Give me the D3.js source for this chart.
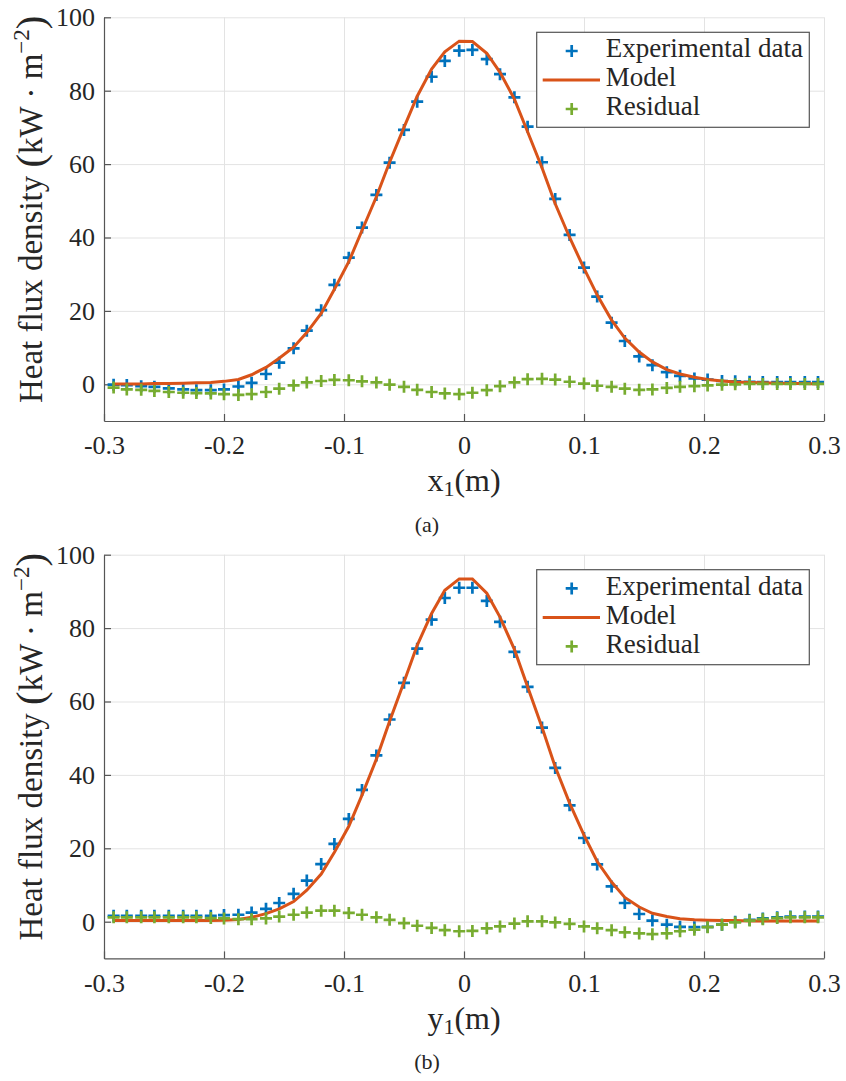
<!DOCTYPE html>
<meta charset="utf-8">
<script src="https://d3js.org/d3.v7.min.js"></script>
<style>
  body { margin: 0; background: #fff; }
  text { font-family: "Liberation Serif", "Times New Roman", serif; fill: #262626; }
</style>
<div id="chart"></div>
<script>

// sample positions along the line (m), same for both scans
var xPos = [-0.292,-0.281,-0.269,-0.258,-0.246,-0.234,-0.223,-0.211,-0.200,-0.188,
            -0.177,-0.165,-0.154,-0.142,-0.131,-0.119,-0.108,-0.096,-0.085,-0.073,
            -0.062,-0.050,-0.039,-0.027,-0.016,-0.004,0.007,0.019,0.030,0.042,
            0.053,0.065,0.076,0.088,0.100,0.111,0.123,0.134,0.146,0.157,
            0.169,0.180,0.192,0.203,0.215,0.226,0.238,0.249,0.261,0.272,
            0.284,0.295];

// (a) scan along x1
var expA = [-0.1,-0.2,-0.5,-0.7,-1.1,-1.4,-1.6,-1.6,-1.4,-0.6,
            0.4,2.8,5.9,9.8,14.6,20.2,27.1,34.5,42.7,51.6,
            60.4,69.3,77.0,83.8,88.1,90.9,91.1,88.6,84.5,78.2,
            70.2,60.5,50.5,40.7,31.8,23.9,16.8,11.8,7.6,5.2,
            3.3,2.3,1.6,1.3,0.9,0.8,0.7,0.6,0.6,0.6,
            0.6,0.6];
var modelA = [0.1,0.1,0.1,0.2,0.2,0.3,0.4,0.5,0.8,1.3,
              2.6,4.6,7.1,10.1,14.1,19.3,25.9,33.4,41.9,51.1,
              60.5,70.0,78.5,85.9,90.6,93.5,93.4,90.2,85.0,77.7,
              68.8,59.0,49.2,40.0,31.6,24.3,17.5,12.6,8.8,6.1,
              4.0,2.8,1.9,1.3,0.9,0.6,0.5,0.4,0.3,0.2,
              0.2,0.1];
var residA = [-0.9,-1.4,-1.5,-1.8,-2.1,-2.3,-2.4,-2.5,-2.7,-2.9,
              -2.7,-2.1,-1.2,-0.3,0.5,0.9,1.2,1.1,0.8,0.5,
              -0.1,-0.7,-1.5,-2.1,-2.5,-2.7,-2.3,-1.6,-0.5,0.5,
              1.4,1.5,1.3,0.7,0.2,-0.4,-0.7,-1.2,-1.5,-1.4,
              -1.0,-0.7,-0.5,-0.3,-0.1,0.0,0.1,0.1,0.1,0.1,
              0.1,0.1];

// (b) scan along y1
var expB = [1.6,1.6,1.6,1.6,1.6,1.6,1.6,1.6,1.8,1.9,
            2.5,3.5,5.1,7.6,11.2,15.7,21.2,28.0,35.9,45.3,
            55.1,65.1,74.4,82.3,88.2,91.0,91.0,87.4,81.7,73.5,
            64.0,52.9,41.9,31.7,22.8,15.6,9.6,5.1,2.1,0.3,
            -0.8,-1.4,-1.5,-1.4,-0.8,0.0,0.5,0.9,1.2,1.4,
            1.4,1.4];
var modelB = [0.3,0.3,0.3,0.3,0.3,0.3,0.3,0.3,0.4,0.6,
              1.2,2.2,3.5,5.5,8.6,13.0,18.9,26.0,34.5,44.3,
              54.6,65.3,75.3,84.0,90.3,93.4,93.4,89.5,83.0,74.2,
              64.0,53.0,42.2,32.3,23.6,16.4,10.8,6.6,4.0,2.3,
              1.4,0.8,0.5,0.4,0.3,0.3,0.2,0.2,0.2,0.2,
              0.2,0.2];
var residB = [1.2,1.2,1.2,1.2,1.2,1.2,1.2,1.0,0.9,0.7,
              0.7,0.9,1.4,1.9,2.5,3.0,3.0,2.4,1.9,1.2,
              0.5,-0.4,-1.1,-1.7,-2.3,-2.6,-2.5,-1.8,-1.3,-0.5,
              0.1,0.1,-0.2,-0.6,-1.3,-1.8,-2.3,-2.9,-3.2,-3.4,
              -3.2,-2.6,-2.2,-1.5,-0.8,-0.2,0.3,0.7,1.0,1.2,
              1.2,1.2];

var xTicks = [-0.3,-0.2,-0.1,0,0.1,0.2,0.3];
var yTicks = [0,20,40,60,80,100];
var legendNames = ["Experimental data", "Model", "Residual"];

var colExp = "#0072BD", colModel = "#D95319", colRes = "#77AC30";

var W = 846, H = 1081;
var plotW = 720, plotH = 403.7, left = 104;

var svg = d3.select("#chart").append("svg")
  .attr("width", W)
  .attr("height", H);

var x = d3.scaleLinear().domain([-0.3, 0.3]).range([0, plotW]);
var y = d3.scaleLinear().domain([-10, 100]).range([plotH, 0]);

var plus = "M-6,0H6M0,-6V6";

function drawPanel(top, expd, model, resid, axisVar, tag) {
  var g = svg.append("g").attr("transform", "translate(" + left + "," + top + ")");

  // grid
  g.append("g")
    .attr("transform", "translate(0," + plotH + ")")
    .call(d3.axisBottom(x).tickValues(xTicks).tickSize(-plotH).tickFormat(""))
    .call(function(s) { s.select(".domain").remove(); s.selectAll("line").attr("stroke", "#e3e3e3"); });
  g.append("g")
    .call(d3.axisLeft(y).tickValues(yTicks).tickSize(-plotW).tickFormat(""))
    .call(function(s) { s.select(".domain").remove(); s.selectAll("line").attr("stroke", "#e3e3e3"); });

  // axes, ticks pointing inward
  var xa = g.append("g")
    .attr("transform", "translate(0," + plotH + ")")
    .call(d3.axisBottom(x).tickValues(xTicks).tickSize(-7).tickSizeOuter(0).tickPadding(15)
      .tickFormat(function(d) { return d === 0 ? "0" : (d < 0 ? "-" : "") + Math.abs(d).toFixed(1); }));
  var ya = g.append("g")
    .call(d3.axisLeft(y).tickValues(yTicks).tickSize(-7).tickSizeOuter(0).tickPadding(9));
  [xa, ya].forEach(function(a) {
    a.attr("font-family", null);
    a.select(".domain").attr("stroke", "#555").attr("stroke-width", 1.2);
    a.selectAll(".tick line").attr("stroke", "#555").attr("stroke-width", 1.2);
    a.selectAll("text").attr("font-size", 26).attr("fill", "#262626");
  });

  // series
  var pts = xPos.map(function(v, i) { return {x: v, e: expd[i], m: model[i], r: resid[i]}; });

  g.selectAll(".exp").data(pts).enter().append("path")
    .attr("class", "exp")
    .attr("d", plus)
    .attr("transform", function(d) { return "translate(" + x(d.x) + "," + y(d.e) + ")"; })
    .attr("stroke", colExp).attr("stroke-width", 2.7).attr("fill", "none");

  g.append("path")
    .datum(pts)
    .attr("d", d3.line().x(function(d) { return x(d.x); }).y(function(d) { return y(d.m); }))
    .attr("fill", "none").attr("stroke", colModel).attr("stroke-width", 3);

  g.selectAll(".res").data(pts).enter().append("path")
    .attr("class", "res")
    .attr("d", plus)
    .attr("transform", function(d) { return "translate(" + x(d.x) + "," + y(d.r) + ")"; })
    .attr("stroke", colRes).attr("stroke-width", 2.7).attr("fill", "none");

  // legend
  var lg = g.append("g").attr("transform", "translate(432.7,15)");
  lg.append("rect").attr("width", 272.6).attr("height", 95)
    .attr("fill", "#fff").attr("stroke", "#555").attr("stroke-width", 1.2);
  var rows = [18.7, 47.7, 76.7];
  legendNames.forEach(function(name, i) {
    if (i === 1) {
      lg.append("line").attr("x1", 6).attr("x2", 63.3).attr("y1", rows[i]).attr("y2", rows[i])
        .attr("stroke", colModel).attr("stroke-width", 3);
    } else {
      lg.append("path").attr("d", plus)
        .attr("transform", "translate(35," + rows[i] + ")")
        .attr("stroke", i === 0 ? colExp : colRes).attr("stroke-width", 2.7).attr("fill", "none");
    }
    lg.append("text").attr("x", 69).attr("y", rows[i] + 6.5)
      .attr("font-size", 27).text(name);
  });

  // y label
  var yl = g.append("text")
    .attr("transform", "translate(" + (42 - left) + "," + 192 + ") rotate(-90)")
    .attr("text-anchor", "middle")
    .attr("font-size", 33);
  yl.append("tspan").text("Heat flux density ");
  yl.append("tspan").attr("font-size", 41).attr("dy", 2).text("(");
  yl.append("tspan").attr("dy", -2).text("kW · m");
  yl.append("tspan").attr("font-size", 23).attr("dy", -13).text("−2");
  yl.append("tspan").attr("font-size", 41).attr("dy", 15).text(")");

  // x label
  var xl = g.append("text")
    .attr("x", plotW / 2).attr("y", 474)
    .attr("text-anchor", "middle")
    .attr("font-size", 32);
  xl.append("tspan").text(axisVar);
  xl.append("tspan").attr("font-size", 22).attr("dy", 5).text("1");
  xl.append("tspan").attr("dy", -5).text("(m)");

  // sub-caption
  g.append("text")
    .attr("x", 427 - left).attr("y", 514.5)
    .attr("text-anchor", "middle")
    .attr("font-size", 22)
    .text(tag);
}

drawPanel(17.3, expA, modelA, residA, "x", "(a)");
drawPanel(554.7, expB, modelB, residB, "y", "(b)");

</script>
